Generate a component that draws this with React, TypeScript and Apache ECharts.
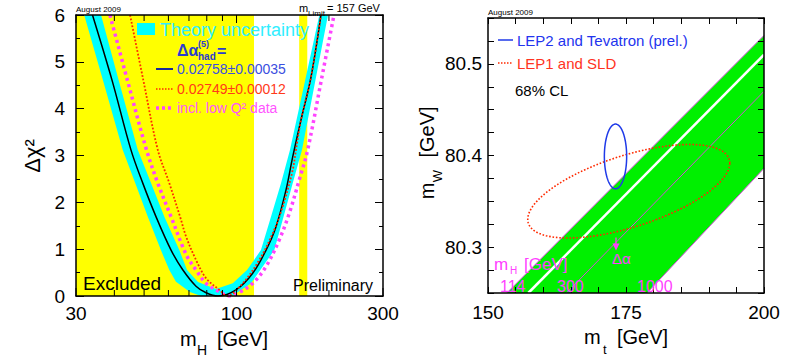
import React, { useEffect, useRef } from 'react';
import * as echarts from 'echarts';

const FONT = '"Liberation Sans", Arial, Helvetica, sans-serif';

// ---------- Left panel: Delta chi^2 vs m_H ----------
const excludedLow = [30, 160];
const excludedHigh = [114, 170];
const logTickValues = [30, 40, 50, 60, 70, 80, 90, 100, 200, 300];
const logTickLabels = [30, 100, 300];

const centralMH = [33.95, 39.3, 45.3, 49.5, 54.7, 61.2, 66.8, 73.8, 79.6, 87.0, 99.6, 112.9, 124.8, 134.5, 144.9, 152.4, 162.2, 174.9, 188.4];
const centralChi2 = [6.0, 4.61, 3.12, 2.41, 1.69, 0.98, 0.56, 0.21, 0.07, 0.0, 0.13, 0.485, 0.98, 1.48, 2.26, 2.97, 3.76, 4.68, 6.0];

const redMH = [45.0, 49.7, 55.4, 60.4, 65.5, 68.5, 73.8, 79.6, 87.9, 93.1, 104.7, 118.6, 131.2, 141.4, 152.4, 156.2, 162.2, 174.9, 188.4];
const redChi2 = [6.0, 4.61, 3.12, 2.41, 1.69, 1.27, 0.77, 0.38, 0.13, 0.0, 0.27, 0.77, 1.34, 1.91, 2.69, 3.12, 3.76, 4.68, 6.0];

const lowQ2MH = [38.7, 44.1, 50.9, 55.4, 61.2, 66.8, 69.5, 73.8, 79.6, 87.9, 94.5, 102.6, 112.9, 124.8, 137.8, 148.6, 160.1, 170.5, 188.9, 207.7];
const lowQ2Chi2 = [6.0, 4.61, 3.12, 2.41, 1.69, 1.05, 0.81, 0.555, 0.27, 0.09, 0.0, 0.085, 0.27, 0.63, 1.2, 1.77, 2.48, 3.12, 4.61, 6.0];

// theory band: outer (lower envelope) left->right, then inner (upper envelope) right->left
const bandOuterMH = [31.9, 36.7, 42.6, 46.8, 51.4, 56.7, 60.4, 63.5, 70.5, 76.6, 96.7, 103.4, 111.5, 120.8, 132.8, 142.3, 152.4, 163.4, 180.8, 198.6];
const bandOuterChi2 = [6.0, 4.61, 3.12, 2.41, 1.69, 0.98, 0.555, 0.305, 0.085, 0.0, 0.0, 0.128, 0.27, 0.6, 0.98, 1.69, 2.41, 3.12, 4.61, 6.0];
const bandInnerMH = [186.1, 167.4, 149.3, 139.6, 129.5, 120.1, 108.2, 97.2, 85.7, 74.9, 69.0, 65.1, 58.2, 52.7, 47.7, 41.3, 36.2];
const bandInnerChi2 = [6.0, 4.61, 3.12, 2.41, 1.69, 0.98, 0.555, 0.27, 0.15, 0.3, 0.555, 0.98, 1.69, 2.41, 3.12, 4.61, 6.0];

// ---------- Right panel: m_W vs m_t ----------
const greenBandMt = [153.4, 200, 200, 178.8];
const greenBandMw = [80.25, 80.531, 80.386, 80.25];
const edge114Mt = [153.4, 200];
const edge114Mw = [80.25, 80.531];
const edge1000Mt = [178.8, 200];
const edge1000Mw = [80.25, 80.386];
const line300Mt = [157.3, 200];
const line300Mw = [80.25, 80.51];
const deltaAlphaMt = [164.2, 200];
const deltaAlphaMw = [80.25, 80.47];
// ellipses: [centre mt, centre mW, half-extent mt, half-extent mW, phase]
const lep2Ellipse = [173.1, 80.399, 2.02, 0.0353, Math.PI / 2];
const lep1Ellipse = [175.5, 80.361, 18.3, 0.051, 0.927];

const zip = (a: number[], b: number[]) => a.map((v, i) => [v, b[i]]);

function polygonSeries(xi: number, yi: number, xs: number[], ys: number[], style: any, z: number) {
  return {
    type: 'custom', xAxisIndex: xi, yAxisIndex: yi, z, silent: true,
    data: zip(xs, ys),
    renderItem: (params: any, api: any) => {
      if (params.dataIndex !== 0) return { type: 'group', children: [] };
      const pts = xs.map((x, i) => api.coord([x, ys[i]]));
      return { type: 'polygon', shape: { points: pts }, style };
    },
  };
}

function ellipseSeries(params5: number[], stroke: string, width: number, dash: any, z: number) {
  return {
    type: 'custom', xAxisIndex: 2, yAxisIndex: 2, z, silent: true,
    data: [params5],
    renderItem: (p: any, api: any) => {
      const cx = api.value(0), cy = api.value(1), a = api.value(2), b = api.value(3), d = api.value(4);
      const pts: number[][] = [];
      for (let k = 0; k <= 144; k++) {
        const t = (2 * Math.PI * k) / 144;
        pts.push(api.coord([cx + a * Math.cos(t), cy + b * Math.cos(t - d)]));
      }
      return { type: 'polyline', shape: { points: pts }, style: { stroke, lineWidth: width, lineDash: dash, fill: 'none' } };
    },
  };
}

function lineSeries(xi: number, yi: number, xs: number[], ys: number[], lineStyle: any, z: number, smooth: any = false) {
  return {
    type: 'line', xAxisIndex: xi, yAxisIndex: yi, z, silent: true, showSymbol: false, symbol: 'none',
    smooth, data: zip(xs, ys), lineStyle,
  };
}

const txt = (x: number, y: number, text: string, size: number, fill: string, extra: any = {}) => ({
  type: 'text', x, y, silent: true, z: 100,
  style: { text, fill, fontSize: size, fontFamily: FONT, align: 'left', verticalAlign: 'middle', ...extra },
});
const ln = (x1: number, y1: number, x2: number, y2: number, stroke: string, lineWidth: number, lineDash: any = null) => ({
  type: 'line', silent: true, z: 100, shape: { x1, y1, x2, y2 }, style: { stroke, lineWidth, lineDash },
});

const axisCommon = {
  z: 10,
  axisLine: { show: true, onZero: false, lineStyle: { color: '#000', width: 1.5 } },
  splitLine: { show: false },
};

export default function App() {
  const ref = useRef<HTMLDivElement>(null);
  useEffect(() => {
    if (!ref.current) return;
    const chart = echarts.init(ref.current, null, { renderer: 'svg' });
    const yLabel = (v: number) => {
      const r = Math.round(v * 10) / 10;
      return Math.abs(v - r) < 1e-6 ? r.toFixed(1) : '';
    };
    const option: any = {
      animation: false,
      textStyle: { fontFamily: FONT },
      grid: [
        { left: 76, top: 15, width: 307, height: 281 },
        { left: 488, top: 18, width: 276, height: 275 },
      ],
      xAxis: [
        { ...axisCommon, type: 'log', gridIndex: 0, min: 30, max: 300, position: 'bottom', axisTick: { show: false }, axisLabel: { show: false }, minorTick: { show: false } },
        { ...axisCommon, type: 'log', gridIndex: 0, min: 30, max: 300, position: 'top', axisTick: { show: false }, axisLabel: { show: false }, minorTick: { show: false } },
        {
          ...axisCommon, type: 'value', gridIndex: 1, min: 150, max: 200, interval: 5, position: 'bottom',
          axisTick: { inside: true, length: 6, lineStyle: { color: '#000' } },
          axisLabel: { fontSize: 19, color: '#000', margin: 10, fontFamily: FONT, showMinLabel: true, showMaxLabel: true, formatter: (v: number) => (v % 25 === 0 ? String(v) : '') },
        },
        { ...axisCommon, type: 'value', gridIndex: 1, min: 150, max: 200, interval: 5, position: 'top', axisTick: { inside: true, length: 6, lineStyle: { color: '#000' } }, axisLabel: { show: false } },
      ],
      yAxis: [
        {
          ...axisCommon, type: 'value', gridIndex: 0, min: 0, max: 6, interval: 1, position: 'left',
          axisTick: { inside: true, length: 8, lineStyle: { color: '#000' } },
          minorTick: { show: true, splitNumber: 2, length: 4, lineStyle: { color: '#000' } },
          axisLabel: { fontSize: 19, color: '#000', margin: 11, fontFamily: FONT },
        },
        {
          ...axisCommon, type: 'value', gridIndex: 0, min: 0, max: 6, interval: 1, position: 'right',
          axisTick: { inside: true, length: 8, lineStyle: { color: '#000' } },
          minorTick: { show: true, splitNumber: 2, length: 4, lineStyle: { color: '#000' } },
          axisLabel: { show: false },
        },
        {
          ...axisCommon, type: 'value', gridIndex: 1, min: 80.25, max: 80.55, interval: 0.025, position: 'left',
          axisTick: { inside: true, length: 6, lineStyle: { color: '#000' } },
          axisLabel: { fontSize: 19, color: '#000', margin: 6, fontFamily: FONT, formatter: yLabel },
        },
        {
          ...axisCommon, type: 'value', gridIndex: 1, min: 80.25, max: 80.55, interval: 0.025, position: 'right',
          axisTick: { inside: true, length: 6, lineStyle: { color: '#000' } },
          axisLabel: { show: false },
        },
      ],
      series: [
        {
          type: 'custom', xAxisIndex: 0, yAxisIndex: 0, z: 1, silent: true,
          data: zip(excludedLow, excludedHigh),
          renderItem: (p: any, api: any) => {
            const a = api.coord([api.value(0), 6]);
            const b = api.coord([api.value(1), 0]);
            return { type: 'rect', shape: { x: a[0], y: a[1], width: b[0] - a[0], height: b[1] - a[1] }, style: { fill: '#ffff00' } };
          },
        },
        polygonSeries(0, 0, [...bandOuterMH, ...bandInnerMH], [...bandOuterChi2, ...bandInnerChi2], { fill: '#00ffff' }, 2),
        lineSeries(0, 0, lowQ2MH, lowQ2Chi2, { color: '#ff44ff', width: 3.5, type: [3, 3.5] }, 3, 0.35),
        lineSeries(0, 0, centralMH, centralChi2, { color: '#000', width: 1.5 }, 4, 0.35),
        lineSeries(0, 0, redMH, redChi2, { color: '#ff2a00', width: 1.8, type: [1.8, 1.8] }, 5, 0.35),
        {
          type: 'custom', xAxisIndex: 0, yAxisIndex: 0, z: 6, silent: true, clip: false,
          data: logTickValues.map((v) => [v, 0]),
          renderItem: (p: any, api: any) => {
            const v = api.value(0);
            const b = api.coord([v, 0]);
            const t = api.coord([v, 6]);
            const L = logTickLabels.indexOf(v) >= 0 ? 8 : 6;
            return {
              type: 'group', children: [
                { type: 'line', shape: { x1: b[0], y1: b[1], x2: b[0], y2: b[1] - L }, style: { stroke: '#000', lineWidth: 1 } },
                { type: 'line', shape: { x1: t[0], y1: t[1], x2: t[0], y2: t[1] + L }, style: { stroke: '#000', lineWidth: 1 } },
              ],
            };
          },
        },
        {
          type: 'custom', xAxisIndex: 0, yAxisIndex: 0, z: 6, silent: true, clip: false,
          data: logTickLabels.map((v) => [v, 0]),
          renderItem: (p: any, api: any) => {
            const v = api.value(0);
            const b = api.coord([v, 0]);
            return { type: 'text', x: b[0], y: b[1] + 17, style: { text: String(v), fill: '#000', fontSize: 19, fontFamily: FONT, align: 'center', verticalAlign: 'middle' } };
          },
        },
        // right panel
        polygonSeries(2, 2, greenBandMt, greenBandMw, { fill: '#00f000' }, 1),
        lineSeries(2, 2, line300Mt, line300Mw, { color: '#ffffff', width: 2.5 }, 2),
        lineSeries(2, 2, edge114Mt, edge114Mw, { color: '#d24fd8', width: 1 }, 2),
        lineSeries(2, 2, edge1000Mt, edge1000Mw, { color: '#d24fd8', width: 1 }, 2),
        lineSeries(2, 2, deltaAlphaMt, deltaAlphaMw, { color: '#d24fd8', width: 1 }, 2),
        ellipseSeries(lep1Ellipse, '#ff2a00', 1.6, [1.6, 1.8], 4),
        ellipseSeries(lep2Ellipse, '#1f3ae8', 1.5, null, 5),
      ],
      graphic: {
        elements: [
          // left panel annotations
          txt(76, 9, 'August 2009', 8, '#000'),
          txt(299, 8, 'm', 11, '#000'),
          txt(308, 13, 'Limit', 8, '#000'),
          txt(327, 8, '= 157 GeV', 11, '#000'),
          { type: 'rect', silent: true, z: 100, shape: { x: 137, y: 23, width: 18, height: 12 }, style: { fill: '#00ffff' } },
          txt(160, 30, 'Theory uncertainty', 18, '#30eeff'),
          txt(177, 50, 'Δα', 16, '#2a3ccf', { fontWeight: 'bold' }),
          txt(198, 44, '(5)', 9, '#2a3ccf', { fontWeight: 'bold' }),
          txt(198, 56, 'had', 10, '#2a3ccf', { fontWeight: 'bold' }),
          txt(217, 51, '=', 16, '#2a3ccf', { fontWeight: 'bold' }),
          ln(156, 69, 173, 69, '#1a2a9a', 2),
          txt(177, 69, '0.02758±0.00035', 14, '#3a4ee0'),
          ln(156, 89, 173, 89, '#ff2a00', 1.5, [1.5, 1.5]),
          txt(177, 89, '0.02749±0.00012', 14, '#ff3a1a'),
          ln(156, 108, 173, 108, '#ff44ff', 3.5, [3, 3]),
          txt(177, 108, 'incl. low Q² data', 14, '#ff55ff'),
          txt(83, 283, 'Excluded', 19, '#000'),
          txt(293, 285, 'Preliminary', 16, '#000'),
          txt(180, 339, 'm', 20, '#000'),
          txt(197, 350, 'H', 14, '#000'),
          txt(217, 339, '[GeV]', 20, '#000'),
          { type: 'text', x: 32, y: 156, rotation: Math.PI / 2, silent: true, z: 100, style: { text: 'Δχ²', fill: '#000', fontSize: 22, fontFamily: FONT, align: 'center', verticalAlign: 'middle' } },
          // right panel annotations
          txt(488, 12.5, 'August 2009', 8, '#000'),
          ln(498, 40, 513, 40, '#1f3ae8', 1.5),
          txt(517, 40, 'LEP2 and Tevatron (prel.)', 15, '#2233ee'),
          ln(498, 63, 513, 63, '#ff2a00', 1.5, [1.5, 1.5]),
          txt(517, 63, 'LEP1 and SLD', 15, '#ff3322'),
          txt(515, 90, '68% CL', 15, '#000'),
          txt(494, 264, 'm', 17, '#ff40ff'),
          txt(510, 270, 'H', 10, '#ff40ff'),
          txt(524, 264, '[GeV]', 17, '#ff40ff'),
          txt(500, 286, '114', 16, '#ff40ff'),
          txt(557, 286, '300', 16, '#ff40ff'),
          txt(637, 286, '1000', 16, '#ff40ff'),
          ln(616, 237.5, 616, 245, '#ff40ff', 1.2),
          { type: 'polygon', silent: true, z: 100, shape: { points: [[612.5, 243.5], [619.5, 243.5], [616, 250.5]] }, style: { fill: '#ff40ff' } },
          txt(612, 258, 'Δα', 15, '#ff40ff'),
          txt(584, 337, 'm', 20, '#000'),
          txt(603, 349, 't', 13, '#000'),
          txt(617, 337, '[GeV]', 20, '#000'),
          { type: 'text', x: 427, y: 191, rotation: Math.PI / 2, silent: true, z: 100, style: { text: 'm', fill: '#000', fontSize: 20, fontFamily: FONT, align: 'center', verticalAlign: 'middle' } },
          { type: 'text', x: 437, y: 176, rotation: Math.PI / 2, silent: true, z: 100, style: { text: 'W', fill: '#000', fontSize: 13, fontFamily: FONT, align: 'center', verticalAlign: 'middle' } },
          { type: 'text', x: 427, y: 132, rotation: Math.PI / 2, silent: true, z: 100, style: { text: '[GeV]', fill: '#000', fontSize: 20, fontFamily: FONT, align: 'center', verticalAlign: 'middle' } },
        ],
      },
    };
    chart.setOption(option);
    return () => chart.dispose();
  }, []);
  return <div ref={ref} style={{ position: 'absolute', left: 0, top: 0, width: 789, height: 358, background: '#fff' }} />;
}
